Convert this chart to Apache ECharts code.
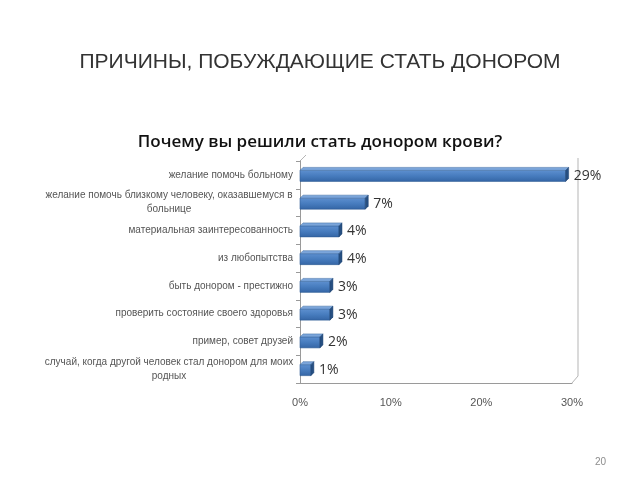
<!DOCTYPE html>
<html><head><meta charset="utf-8">
<script src="https://cdn.jsdelivr.net/npm/echarts@6/dist/echarts.min.js"></script>
<style>html,body{margin:0;padding:0;background:#fff}#c{width:640px;height:480px}</style>
</head><body><div id="c"></div>
<script>
const categories = [
  'желание помочь больному',
  'желание помочь близкому человеку, оказавшемуся в\nбольнице',
  'материальная заинтересованность',
  'из любопытства',
  'быть донором - престижно',
  'проверить состояние своего здоровья',
  'пример, совет друзей',
  'случай, когда другой человек стал донором для моих\nродных'
];
const values = [29.3, 7.2, 4.3, 4.3, 3.3, 3.3, 2.2, 1.2];
const valueLabels = ['29%', '7%', '4%', '4%', '3%', '3%', '2%', '1%'];
const xTicks = [0, 10, 20, 30];

const chart = echarts.init(document.getElementById('c'), null, {renderer: 'canvas'});
const seriesData = values.map((v, i) => [v, i, valueLabels[i]]);

function renderItem(params, api) {
  const v = api.value(0), c = api.value(1);
  const p0 = api.coord([0, c]);
  const p1 = api.coord([v, c]);
  const h = 11, d = 3;
  const x0 = p0[0], x1 = p1[0];
  const y = p0[1] - h / 2 + 1;
  return {
    type: 'group',
    children: [
      {type: 'rect', shape: {x: x0, y: y, width: x1 - x0, height: h},
       style: {fill: new echarts.graphic.LinearGradient(0, 0, 0, 1, [
         {offset: 0, color: '#5e90d0'}, {offset: 0.5, color: '#477cbe'}, {offset: 1, color: '#3465a5'}]),
         stroke: '#2f5d94', lineWidth: 0.6}},
      {type: 'polygon', shape: {points: [[x0, y], [x0 + d, y - d], [x1 + d, y - d], [x1, y]]},
       style: {fill: '#7ba5da', stroke: '#3c6aa3', lineWidth: 0.5}},
      {type: 'polygon', shape: {points: [[x1, y], [x1 + d, y - d], [x1 + d, y - d + h], [x1, y + h]]},
       style: {fill: '#264f82', stroke: '#1f4371', lineWidth: 0.5}},
      {type: 'text', style: {x: x1 + d + 5, y: p0[1] + 1, text: api.value(2),
        fill: '#333', font: '14px "Open Sans", sans-serif', align: 'left', verticalAlign: 'middle'}}
    ]
  };
}

chart.setOption({
  backgroundColor: '#fff',
  animation: false,
  title: [
    {text: 'ПРИЧИНЫ, ПОБУЖДАЮЩИЕ СТАТЬ ДОНОРОМ', left: 'center', top: 47,
     textStyle: {fontFamily: '"Liberation Sans", Arial, sans-serif', fontSize: 21, fontWeight: 'normal', color: '#333'}},
    {text: 'Почему вы решили стать донором крови?', left: 'center', top: 129,
     textStyle: {fontFamily: '"Open Sans", sans-serif', fontSize: 17, fontWeight: 600, color: '#111'}},
    {text: '20', left: 590, top: 452,
     textStyle: {fontFamily: '"Liberation Sans", Arial, sans-serif', fontSize: 10, fontWeight: 'normal', color: '#8c8c8c'}}
  ],
  grid: {left: 300, right: 68, top: 161, bottom: 97, containLabel: false},
  xAxis: {
    type: 'value', min: 0, max: 30, interval: 10,
    axisLine: {show: true, lineStyle: {color: '#9a9a9a', width: 1}},
    axisTick: {show: false},
    splitLine: {show: false},
    axisLabel: {formatter: v => xTicks.includes(v) ? v + '%' : '', color: '#555', fontSize: 11,
      fontFamily: '"Liberation Sans", Arial, sans-serif', margin: 14}
  },
  yAxis: {
    type: 'category', data: categories, inverse: true,
    axisLine: {show: true, lineStyle: {color: '#9a9a9a', width: 1}},
    axisTick: {show: true, length: 4, lineStyle: {color: '#9a9a9a'}},
    axisLabel: {
      color: '#555', fontSize: 10, fontFamily: '"Liberation Sans", Arial, sans-serif', margin: 7,
      formatter: function (v) {
        if (v.indexOf('\n') >= 0) {
          return v.split('\n').map(s => '{w|' + s + '}').join('\n');
        }
        return v;
      },
      rich: {w: {width: 248, align: 'center', color: '#555', fontSize: 10, lineHeight: 14,
        fontFamily: '"Liberation Sans", Arial, sans-serif'}}
    }
  },
  graphic: [
    {type: 'line', shape: {x1: 578, y1: 158, x2: 578, y2: 376}, style: {stroke: '#b5b5b5', lineWidth: 1}},
    {type: 'line', shape: {x1: 572, y1: 383, x2: 578, y2: 376}, style: {stroke: '#b5b5b5', lineWidth: 1}},
    {type: 'line', shape: {x1: 300, y1: 161, x2: 306, y2: 155}, style: {stroke: '#b5b5b5', lineWidth: 1}}
  ],
  series: [{
    type: 'custom', renderItem: renderItem, data: seriesData,
    encode: {x: 0, y: 1}, clip: false
  }]
});
</script></body></html>
